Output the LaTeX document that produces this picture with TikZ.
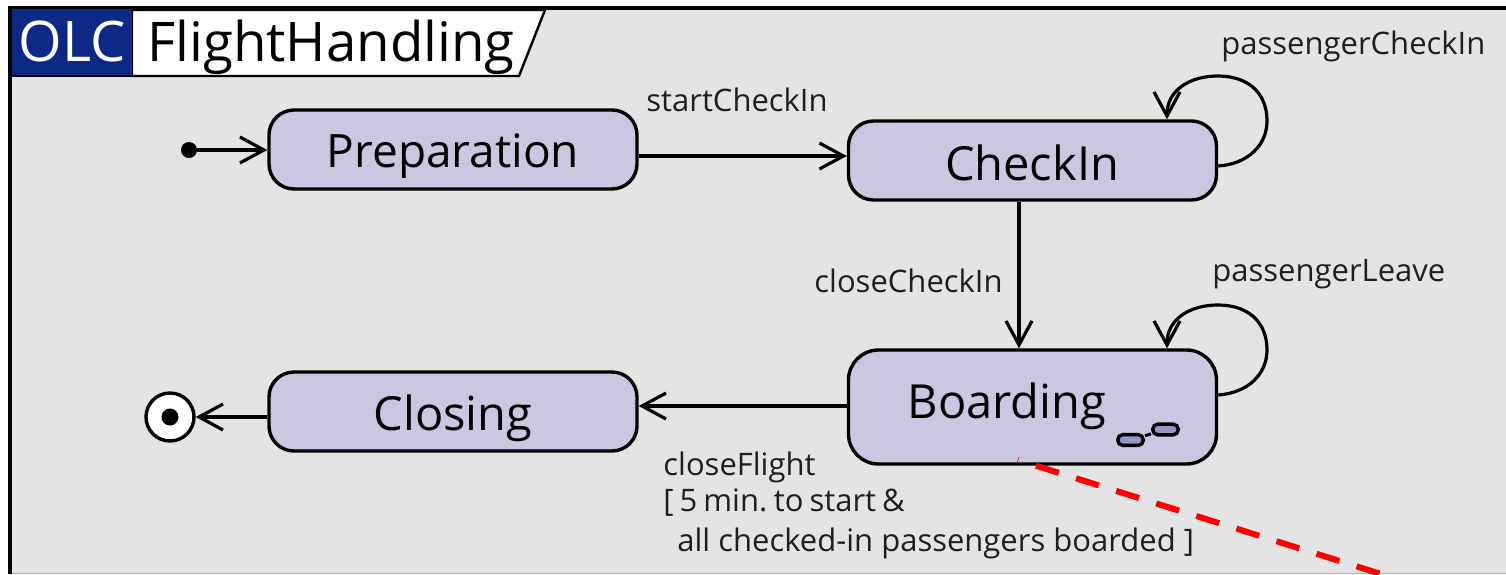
\documentclass[tikz,border=0pt]{standalone}
\usepackage{fontspec}
\setmainfont{Open Sans}
\usetikzlibrary{arrows.meta}
\definecolor{panel}{HTML}{E4E4E4}
\definecolor{statefill}{HTML}{C9C8E0}
\definecolor{olcblue}{HTML}{0C2A85}
\definecolor{minifill}{HTML}{9496C6}
\tikzset{
  x=0.5pt,y=-0.5pt,
  statebox/.style={draw=black,line width=1.7pt,fill=statefill,rounded corners=12.5pt,inner sep=0pt,minimum width=184pt,minimum height=39.5pt},
  statetext/.style={inner sep=0pt,anchor=base,font=\fontsize{23.5pt}{28pt}\selectfont},
  trans/.style={draw=black,line width=1.6pt,-{Straight Barb[length=12pt,width=13pt,line width=1.6pt]}},
  lab/.style={inner sep=0pt,anchor=base west,font=\fontsize{15.5pt}{18pt}\selectfont,text=black!88},
  mini/.style={draw=black,line width=1.7pt,fill=minifill,rounded corners=2.6pt,inner sep=0pt,minimum width=12.8pt,minimum height=5.4pt},
}
\begin{document}
\begin{tikzpicture}
\useasboundingbox (0,0) rectangle (1506,574);
\fill[white] (0,0) rectangle (1506,574);
\fill[panel] (10,8) rectangle (1506,573);
\fill[black!30] (10,573) rectangle (1506,574);
\draw[line width=2pt] (1506,7.5) -- (10,7.5) -- (10,574);
% title tab
\path[fill=white,draw=black,line width=1.2pt] (132,10) -- (545,10) -- (519,76) -- (132,76) -- cycle;
\fill[olcblue] (12,9) rectangle (132,75);
\draw[line width=1.2pt] (12,76) -- (132,76);
\node[inner sep=0pt,anchor=base,text=white,font=\fontsize{28pt}{32pt}\selectfont] (olc) at (72,61) {OLC};
\node[inner sep=0pt,anchor=base west,text=black,font=\fontsize{27.3pt}{32pt}\selectfont] (title) at (147,61) {FlightHandling};
% states
\node[statebox] (prep) at (453,149.5) {};
\node[statetext,font=\fontsize{23pt}{28pt}\selectfont] (preptext) at (453,167) {Preparation};
\node[statebox] (checkin) at (1032.5,160.5) {};
\node[statetext] (checkintext) at (1032,180) {CheckIn};
\node[statebox,minimum height=57pt,rounded corners=15pt] (boarding) at (1032.5,407) {};
\node[statetext] (boardingtext) at (1007,418) {Boarding};
\node[statebox] (closing) at (453,411.5) {};
\node[statetext] (closingtext) at (453,430) {Closing};
% initial and final
\node[circle,fill=black,inner sep=0pt,minimum size=8pt] (init) at (189,150) {};
\node[circle,draw=black,fill=white,line width=1.7pt,inner sep=0pt,minimum size=24pt] (final) at (170,417) {};
\node[circle,fill=black,inner sep=0pt,minimum size=8.5pt] (finaldot) at (170,417) {};
% transitions
\draw[trans] (init) -- ([yshift=-0.25pt]prep.west);
\draw[trans] ([yshift=-3.25pt]prep.east) -- ([yshift=2.25pt]checkin.west);
\draw[trans] ([xshift=-6.75pt]checkin.south) -- ([xshift=-6.75pt]boarding.north);
\draw[trans] ([yshift=0.5pt]boarding.west) -- ([yshift=2.75pt]closing.east);
\draw[trans] ([yshift=-2.75pt]closing.west) -- (final.east);
% self loops
\draw[trans] ([yshift=-2.75pt]checkin.east) .. controls (1248,164) and (1267,145) .. (1267,121) .. controls (1267,92) and (1247,76) .. (1218,76) .. controls (1190,76) and (1167,90) .. ([xshift=67.25pt]checkin.north);
\draw[trans] ([yshift=6pt]boarding.east) .. controls (1248,393) and (1267,374) .. (1267,350) .. controls (1267,321) and (1247,305) .. (1218,305) .. controls (1190,305) and (1167,319) .. ([xshift=67.25pt]boarding.north);
% labels
\node[lab] (l1) at (646,111) {startCheckIn};
\node[lab] (l2) at (1221,54) {passengerCheckIn};
\node[lab] (l3) at (814,292) {closeCheckIn};
\node[lab] (l4) at (1212,281) {passengerLeave};
\node[lab] (l5) at (663,475) {closeFlight};
\node[lab] (l6) at (663,511) {\spaceskip=3pt [ 5 min.\hspace{-1pt} to start \&};
\node[lab] (l7) at (677,551) {all checked-in passengers boarded ]};
% composite icon
\node[mini] (m1) at (1130.5,440) {};
\node[mini] (m2) at (1165.5,429.5) {};
\draw[line width=1.5pt] (m1) -- (m2);
% red dashed
\draw[red,line width=3pt,dash pattern=on 12pt off 9pt] ([xshift=1.75pt]boarding.south) -- (1381,574);
\draw[red,line width=0.3pt] (1017,463) -- (1019,457);
\end{tikzpicture}
\end{document}
